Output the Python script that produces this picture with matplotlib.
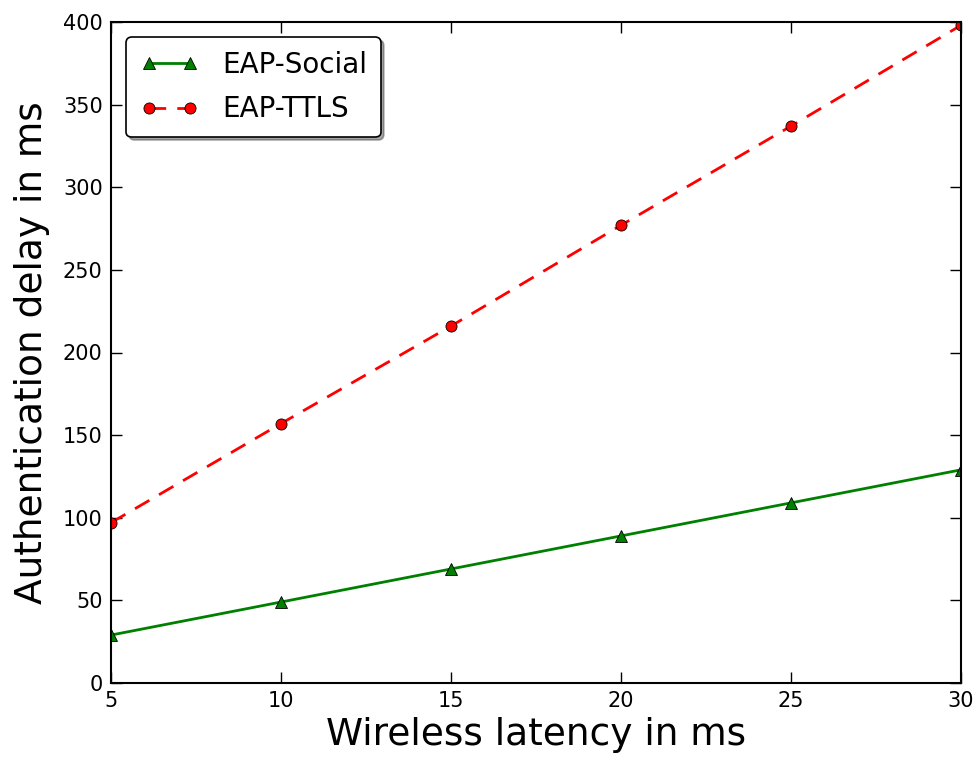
import matplotlib
matplotlib.use("Agg")
import matplotlib.pyplot as plt

latency = [5, 10, 15, 20, 25, 30]
eap_social = [29, 49, 69, 89, 109, 129]
eap_ttls = [97, 157, 216, 277, 337, 398]
xticks = [5, 10, 15, 20, 25, 30]
yticks = [0, 50, 100, 150, 200, 250, 300, 350, 400]

plt.rcParams['font.family'] = ['DejaVu Sans']
fig = plt.figure(figsize=(9.78, 7.58), dpi=100)
ax = fig.add_axes([111/978, 1-683/758, (961-111)/978, (683-22)/758])

ax.plot(latency, eap_social, color=(0, 0.5, 0), linestyle='-', linewidth=2,
        marker='^', markersize=8, markeredgecolor='black', markeredgewidth=0.6,
        label='EAP-Social')
ax.plot(latency, eap_ttls, color='red', linestyle='--', linewidth=2, dashes=(6, 4),
        marker='o', markersize=8, markeredgecolor='black', markeredgewidth=0.6,
        label='EAP-TTLS')

ax.set_xlim(5, 30)
ax.set_ylim(0, 400)
ax.set_xticks(xticks)
ax.set_yticks(yticks)
ax.tick_params(direction='in', length=8, width=1, top=True, right=True,
               labelsize=15, pad=6)
for s in ax.spines.values():
    s.set_linewidth(1.5)

ax.set_xlabel('Wireless latency in ms', fontsize=27, labelpad=4)
ax.set_ylabel('Authentication delay in ms', fontsize=27, labelpad=9)

leg = ax.legend(loc='upper left', fontsize=20, shadow=True, fancybox=True,
                handlelength=2.1, borderpad=0.5, labelspacing=0.58,
                handletextpad=0.85, borderaxespad=0.55, numpoints=2, framealpha=1)
leg.get_frame().set_edgecolor('black')
leg.get_frame().set_linewidth(1.2)

fig.savefig('out.png', dpi=100)
